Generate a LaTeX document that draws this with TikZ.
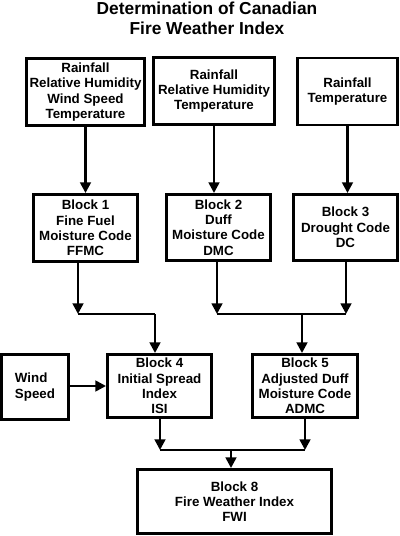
\documentclass[tikz,border=0pt]{standalone}
\usepackage{fontspec}
\setmainfont{Liberation Sans}
\usetikzlibrary{arrows.meta,calc}
\begin{document}
\begin{tikzpicture}[x=.75pt, y=-.75pt,
  box/.style={draw, line width=2.2pt, align=center, inner sep=0pt, font=\fontsize{10}{11.5}\selectfont\bfseries},
  arr/.style={line width=1.9pt, -{Triangle[length=8pt,width=8pt]}},
  link/.style={line width=1.9pt}]

\useasboundingbox (0,0) rectangle (400,536);

\node[align=center, font=\fontsize{13}{15}\selectfont\bfseries] (title) at (207,18) {Determination of Canadian\\Fire Weather Index};

\node[box, minimum width=88.5pt, minimum height=50.25pt] (inA) at (85.5,92)   {Rainfall\\Relative Humidity\\Wind Speed\\Temperature};
\node[box, minimum width=90.75pt, minimum height=50.25pt] (inB) at (214,91)   {Rainfall\\Relative Humidity\\Temperature};
\node[box, minimum width=75pt, minimum height=50.25pt] (inC) at (347.5,91.5)  {Rainfall\\Temperature};

\node[box, minimum width=78pt, minimum height=50.25pt] (b1) at (85.5,228)   {Block 1\\Fine Fuel\\Moisture Code\\FFMC};
\node[box, minimum width=78pt, minimum height=49.5pt]  (b2) at (218.5,227.5) {Block 2\\Duff\\Moisture Code\\DMC};
\node[box, minimum width=78pt, minimum height=49.5pt]  (b3) at (345.5,227.5) {Block 3\\Drought Code\\DC};

\node[box, align=left, minimum width=50.25pt, minimum height=48.75pt] (wind) at (35,387) {Wind\\Speed};
\node[box, minimum width=78pt, minimum height=47.25pt]    (b4) at (159.5,386) {Block 4\\Initial Spread\\Index\\ISI};
\node[box, minimum width=78.75pt, minimum height=47.25pt] (b5) at (305,386)   {Block 5\\Adjusted Duff\\Moisture Code\\ADMC};

\node[box, minimum width=145.5pt, minimum height=48pt] (b8) at (234.5,501.5) {Block 8\\Fire Weather Index\\FWI};

\coordinate (j1) at (78,314);
\coordinate (j2) at (217,314);
\coordinate (j3) at (346,314);
\coordinate (j4) at (160,450);
\coordinate (j5) at (305,450);
\coordinate (t4) at ($(b4.north)+(-4.5,0)$);
\coordinate (t5) at ($(b5.north)+(-3,0)$);
\coordinate (t8) at ($(b8.north)+(-3.5,0)$);

\draw[arr] (inA.south) -- (inA.south |- b1.north);
\draw[arr] (inB.south) -- (inB.south |- b2.north);
\draw[arr] (inC.south) -- (inC.south |- b3.north);

\draw[arr] (b1.south -| j1) -- (j1);
\draw[arr] (b2.south -| j2) -- (j2);
\draw[arr] (b3.south -| j3) -- (j3);
\draw[link] (j1) -- (t4 |- j1);
\draw[arr] (t4 |- j1) -- (t4);
\draw[link] (j2) -- (j3);
\draw[arr] (t5 |- j2) -- (t5);

\draw[arr] (wind.east |- b4.west) -- (b4.west);

\draw[arr] (b4.south -| j4) -- (j4);
\draw[arr] (b5.south -| j5) -- (j5);
\draw[link] (j4) -- (j5);
\draw[arr] (t8 |- j4) -- (t8);
\end{tikzpicture}
\end{document}
